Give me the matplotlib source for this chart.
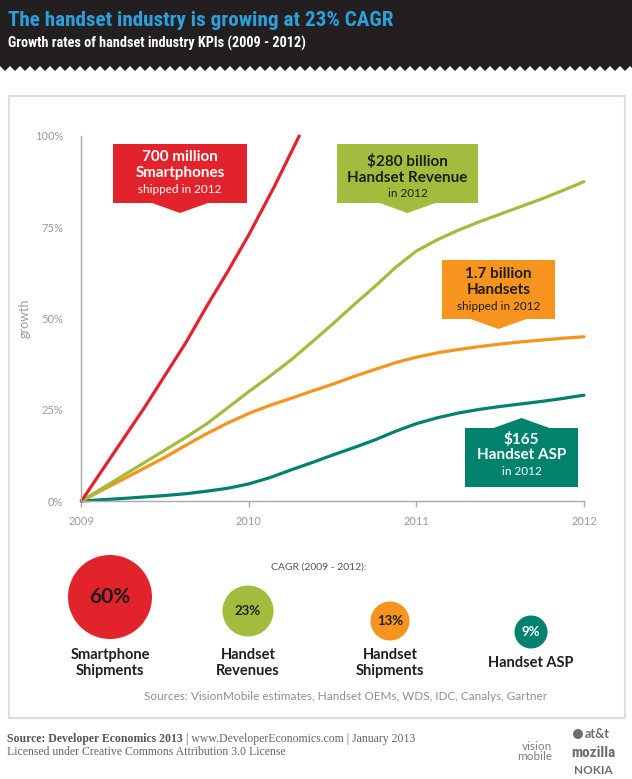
import matplotlib
matplotlib.use("Agg")
import matplotlib.pyplot as plt
from matplotlib.patches import Polygon, Rectangle, Circle
from matplotlib import font_manager

# ---------------- data ----------------
years = [2009, 2009.125, 2009.25, 2009.375, 2009.5, 2009.625, 2009.75, 2009.875,
         2010, 2010.125, 2010.25, 2010.375, 2010.5, 2010.625, 2010.75, 2010.875,
         2011, 2011.125, 2011.25, 2011.375, 2011.5, 2011.625, 2011.75, 2011.875, 2012]
smartphone_years = [2009, 2009.125, 2009.25, 2009.375, 2009.5, 2009.625, 2009.75,
                    2009.875, 2010, 2010.075, 2010.15, 2010.225, 2010.3]
smartphone_growth = [0, 8.5, 17, 25.5, 34.5, 43.5, 53.5, 63, 73, 79.5, 86, 93, 100]
revenue_growth = [0, 3.5, 7, 10.5, 14, 17.5, 21.2, 25.6, 30, 34.2, 38.6, 43.5, 48.5,
                  53.7, 58.7, 64, 68.5, 71.6, 74.2, 76.5, 78.6, 80.7, 82.8, 85.1, 87.5]
shipments_growth = [0, 3, 6, 9, 12, 15.3, 18.5, 21.4, 24, 26.2, 28.1, 30.1, 32,
                    34.1, 36, 37.9, 39.4, 40.6, 41.5, 42.3, 43, 43.6, 44.1, 44.6, 45]
asp_growth = [0, 0.35, 0.7, 1.1, 1.5, 2.0, 2.7, 3.5, 4.7, 6.4, 8.5, 10.5, 12.6,
              14.6, 16.7, 19.1, 21.2, 22.8, 24.1, 25.1, 25.9, 26.6, 27.3, 28.1, 29]

x_ticks = [2009, 2010, 2011, 2012]
y_ticks = [0, 25, 50, 75, 100]

cagr_names = ["Smartphone\nShipments", "Handset\nRevenues", "Handset\nShipments", "Handset ASP"]
cagr_values = [60, 23, 13, 9]

RED = "#e3232b"
GREEN = "#a2bd3e"
ORANGE = "#f7941d"
TEAL = "#00826c"
GRAY = "#9a9a9a"
cagr_colors = [RED, GREEN, ORANGE, TEAL]

W, H = 632, 779
fig = plt.figure(figsize=(W / 100, H / 100), dpi=100)
fig.patch.set_facecolor("white")

SANS = ["Lato", "DejaVu Sans"]


def pick(cands):
    for c in cands:
        try:
            font_manager.findfont(font_manager.FontProperties(family=c), fallback_to_default=False)
            return [c, "DejaVu Sans"]
        except Exception:
            continue
    return ["Roboto", "DejaVu Sans"]


NARROW = pick(["Liberation Sans Narrow", "DejaVu Sans Condensed", "Roboto Condensed",
               "Open Sans Condensed", "Roboto"])

# ---------------- chart axes ----------------
x0, x1 = 81.4, 584.0
y0, y1 = 501.0, 136.0
ax = fig.add_axes([x0 / W, 1 - y0 / H, (x1 - x0) / W, (y0 - y1) / H])
ax.set_facecolor("none")
ax.set_xlim(2009, 2012)
ax.set_ylim(0, 100)
for s in ["top", "right"]:
    ax.spines[s].set_visible(False)
for s in ["left", "bottom"]:
    ax.spines[s].set_color("#a8a8a8")
    ax.spines[s].set_linewidth(1.0)
ax.set_xticks(x_ticks)
ax.set_xticklabels([str(v) for v in x_ticks], fontfamily=SANS, fontsize=8, color=GRAY)
ax.set_yticks(y_ticks)
ax.set_yticklabels([f"{v}%" for v in y_ticks], fontfamily=SANS, fontsize=8, color=GRAY)
ax.tick_params(axis="x", length=4, width=1, color="#a8a8a8", pad=7)
ax.tick_params(axis="y", length=0, pad=13)
ax.set_ylabel("growth", fontfamily=SANS, fontsize=9, color=GRAY)
ax.yaxis.set_label_coords((31 - x0) / (x1 - x0), 0.5)

lw = 2.3
kw = dict(lw=lw, solid_joinstyle="round", solid_capstyle="round", clip_on=False)
ax.plot(years, asp_growth, color=TEAL, **kw)
ax.plot(years, shipments_growth, color=ORANGE, **kw)
ax.plot(years, revenue_growth, color=GREEN, **kw)
ax.plot(smartphone_years, smartphone_growth, color=RED, **kw)

# ---------------- overlay (pixel coordinates) ----------------
ov = fig.add_axes([0, 0, 1, 1], zorder=5)
ov.set_xlim(0, W)
ov.set_ylim(H, 0)
ov.axis("off")
ov.set_facecolor("none")

# header band with zigzag edge
pts = [(0, 0), (W, 0)]
period = 10.0
n = int(W / period) + 1
for k in range(n, -1, -1):
    xa = k * period
    pts.append((xa, 66))
    pts.append((xa - period / 2, 71))
ov.add_patch(Polygon(pts, closed=True, facecolor="#231f20", edgecolor="none"))
title = ov.text(8, 26, "The handset industry is growing at 23% CAGR", fontfamily=NARROW,
                fontweight="bold", fontsize=18, color="#2aa1dc", va="baseline", ha="left")
sub = ov.text(8, 48, "Growth rates of handset industry KPIs (2009 - 2012)", fontfamily=NARROW,
              fontweight="bold", fontsize=12, color="white", va="baseline", ha="left")
fig.canvas.draw()
r = fig.canvas.get_renderer()
for t, target in [(title, 385), (sub, 299)]:
    w = t.get_window_extent(r).width
    t.set_fontsize(t.get_fontsize() * target / w)

# panel border
ov.add_patch(Rectangle((9, 96), 616, 622, facecolor="none", edgecolor="#dddddd", lw=1.5))


def callout(xl, xr, yt, yb, color, lines, txtcolor, down=True):
    cx = (xl + xr) / 2
    hw, d = 28, 10
    if down:
        p = [(xl, yt), (xr, yt), (xr, yb), (cx + hw, yb), (cx, yb + d), (cx - hw, yb), (xl, yb)]
    else:
        p = [(xl, yt), (cx - hw, yt), (cx, yt - d), (cx + hw, yt), (xr, yt), (xr, yb), (xl, yb)]
    ov.add_patch(Polygon(p, closed=True, facecolor=color, edgecolor="none"))
    for (ty, txt, bold) in lines:
        ov.text(cx, ty, txt, ha="center", va="center", fontfamily=SANS,
                fontsize=11 if bold else 8.5, fontweight="bold" if bold else "normal",
                color=txtcolor)


callout(113, 247, 144, 203, RED,
        [(157, "700 million", True), (172.5, "Smartphones", True), (189, "shipped in 2012", False)],
        "white")
callout(337, 478, 144, 203, GREEN,
        [(161.5, "$280 billion", True), (177.5, "Handset Revenue", True), (193.5, "in 2012", False)],
        "#1e1e1e")
callout(442, 555, 260, 319, ORANGE,
        [(274, "1.7 billion", True), (290, "Handsets", True), (306, "shipped in 2012", False)],
        "#1e1e1e")
callout(465, 578, 428, 487, TEAL,
        [(439, "$165", True), (455, "Handset ASP", True), (471, "in 2012", False)],
        "white", down=False)

# CAGR bubbles
ov.text(319, 567, "CAGR (2009 - 2012):", ha="center", va="center", fontfamily=SANS,
        fontsize=7.5, color="#555555")
cx_list = [110, 248, 390, 531]
cy_list = [597, 611, 621, 632]
r_list = [42, 25.5, 19.5, 16.5]
fs_list = [15, 9.5, 9.5, 9.5]
tc_list = ["#1e1e1e", "#1e1e1e", "#1e1e1e", "white"]
for name, val, col, cx, cy, rr, fs, tc in zip(cagr_names, cagr_values, cagr_colors,
                                               cx_list, cy_list, r_list, fs_list, tc_list):
    ov.add_patch(Circle((cx, cy), rr, facecolor=col, edgecolor="none"))
    ov.text(cx, cy, f"{val}%", ha="center", va="center", fontfamily=SANS,
            fontsize=fs, fontweight="bold", color=tc)
    ov.text(cx, 663, name, ha="center", va="center", fontfamily=SANS, fontsize=10.5,
            fontweight="bold", color="#1e1e1e", linespacing=1.1)

ov.text(346, 696, "Sources: VisionMobile estimates, Handset OEMs, WDS, IDC, Canalys, Gartner",
        ha="center", va="center", fontfamily=SANS, fontsize=8.5, color="#8f8f8f")

# footer
SERIF = ["Liberation Serif", "DejaVu Serif"]
t = ov.text(7, 742, "Source: Developer Economics 2013", ha="left", va="baseline",
            fontfamily=SERIF, fontsize=8.5, fontweight="bold", color="#555555")
fig.canvas.draw()
bb = t.get_window_extent()
ov.text(7 + bb.width + 3, 742, "| www.DeveloperEconomics.com | January 2013", ha="left",
        va="baseline", fontfamily=SERIF, fontsize=8.5, color="#666666")
ov.text(7, 755, "Licensed under Creative Commons Attribution 3.0 License", ha="left",
        va="baseline", fontfamily=SERIF, fontsize=8.5, color="#666666")

ov.text(552, 746, "vision", ha="right", va="center", fontfamily=SANS, fontsize=8.5,
        color="#808080")
ov.text(552, 757, "mobile", ha="right", va="center", fontfamily=SANS, fontsize=8.5,
        color="#808080")
ov.add_patch(Circle((578, 734), 5, facecolor="#6d6d6d", edgecolor="none"))
ov.text(585, 734, "at&t", ha="left", va="center", fontfamily=SANS, fontsize=9,
        fontweight="bold", color="#6d6d6d")
ov.text(593, 753, "mozilla", ha="center", va="center", fontfamily=NARROW, fontsize=11,
        fontweight="bold", color="#6d6d6d")
ov.text(593, 771, "NOKIA", ha="center", va="center", fontfamily=SANS, fontsize=8.5,
        fontweight="bold", color="#6d6d6d")

fig.savefig("out.png", dpi=100, facecolor="white")
